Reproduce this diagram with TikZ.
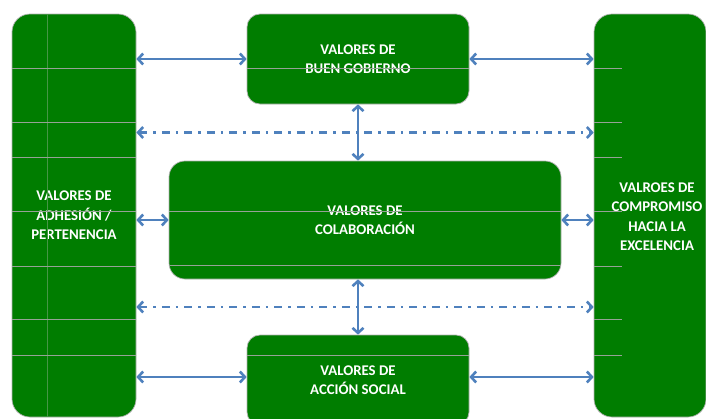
\documentclass[tikz,border=0pt]{standalone}
\usepackage{fontspec}
\setmainfont{Carlito}
\usetikzlibrary{arrows.meta,calc}
\definecolor{boxgreen}{RGB}{0,125,0}
\definecolor{arrowblue}{RGB}{79,129,189}
\definecolor{gridgray}{RGB}{150,162,150}
\definecolor{gridfaint}{RGB}{70,150,70}
\begin{document}
\begin{tikzpicture}[x=1pt,y=-1pt,
  box/.style={draw=gray!60, line width=0.7pt, fill=boxgreen, rounded corners=#1,
    inner sep=0pt, text=white, align=center,
    font=\bfseries\fontsize{14.8}{19.5}\selectfont},
  box/.default=13pt,
  lbl/.style={text=white, align=center, inner sep=0pt,
    font=\bfseries\fontsize{14.8}{19.5}\selectfont},
  grid/.style={draw=gridgray, line width=0.9pt},
  vgrid/.style={draw=gridfaint, line width=0.6pt},
  arr/.style={draw=arrowblue, line width=2.6pt,
    {Straight Barb[length=5pt,width=11pt]}-{Straight Barb[length=5pt,width=11pt]}},
  dd/.style={arr, dash pattern=on 8pt off 6pt on 2.5pt off 6pt}]
\useasboundingbox (0,0) rectangle (706,418);
\clip (0,0) rectangle (706,418);
% boxes
\node[box=18pt, minimum width=124pt, minimum height=403pt] (L) at (74,215.5)
  {VALORES DE\\ADHESIÓN /\\PERTENENCIA};
\node[box=18pt, minimum width=112pt, minimum height=403pt,
  label={[lbl,xshift=7pt,yshift=-1pt]center:VALROES DE\\COMPROMISO\\HACIA LA\\EXCELENCIA}] (R) at (650,215.5) {};
\node[box, minimum width=222pt, minimum height=90pt] (T) at (358,59)
  {VALORES DE\\BUEN GOBIERNO};
\node[box=16pt, minimum width=392pt, minimum height=118pt] (M) at (365,220)
  {VALORES DE\\COLABORACIÓN};
\node[box, minimum width=222pt, minimum height=90pt] (B) at (358,380)
  {VALORES DE\\ACCIÓN SOCIAL};
% faint grid lines of the underlying table
\draw[vgrid] (47,14) -- (47,417);
\foreach \yy in {68,122,157,211,266,319,355} {
  \draw[grid] (12,\yy) -- (136,\yy);
  \draw[grid] (594,\yy) -- (622,\yy);
}
\draw[grid] (247,68) -- (469,68);
\draw[grid] (169,211) -- (561,211);
\draw[grid] (169,265) -- (561,265);
\draw[grid] (247,355) -- (469,355);
% connectors
\coordinate (m1) at ($(T.south)!.5!(M.north)$);
\coordinate (m2) at ($(M.south)!.5!(B.north)$);
\coordinate (bw) at ([yshift=3pt]B.west);
\coordinate (be) at ([yshift=3pt]B.east);
\draw[arr] (T.west -| L.east) -- (T.west);
\draw[arr] (T.east) -- (T.east -| R.west);
\draw[arr] (M.west -| L.east) -- (M.west);
\draw[arr] (M.east) -- (M.east -| R.west);
\draw[arr] (bw -| L.east) -- (bw);
\draw[arr] (be) -- (be -| R.west);
\draw[dd] (m1 -| L.east) -- (m1 -| R.west);
\draw[dd] (m2 -| L.east) -- (m2 -| R.west);
\draw[arr] (T.south) -- (T.south |- M.north);
\draw[arr] (M.south -| B.north) -- (B.north);
\end{tikzpicture}
\end{document}
